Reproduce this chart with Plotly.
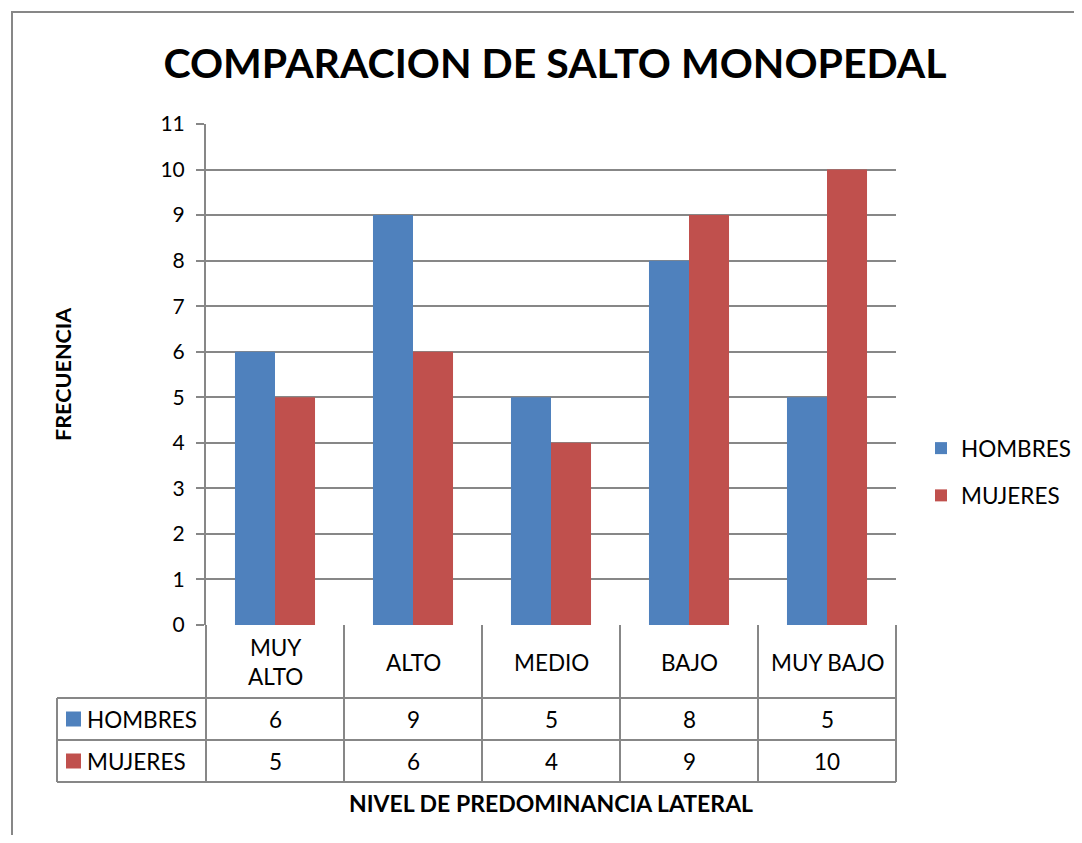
import plotly.graph_objects as go

categories = ["MUY ALTO", "ALTO", "MEDIO", "BAJO", "MUY BAJO"]
category_labels = ["MUY<br>ALTO", "ALTO", "MEDIO", "BAJO", "MUY BAJO"]
series_names = ["HOMBRES", "MUJERES"]
hombres = [6, 9, 5, 8, 5]
mujeres = [5, 6, 4, 9, 10]
y_ticks = list(range(0, 12))

colors = ["#4F81BD", "#C0504D"]
FONT = "Lato"
GRID = "#878787"

OFF = 8  # browser body margin
W, H = 1082 - 2 * OFF, 843 - 2 * OFF
L, R, T, B = 206, 896, 124, 625  # plot area box in window pixels
pw, ph = R - L, B - T


def px_x(p):
    return (p - L) / pw


def px_y(p):
    return (B - p) / ph


fig = go.Figure()
for name, vals, col in zip(series_names, [hombres, mujeres], colors):
    fig.add_trace(go.Bar(x=categories, y=vals, name=name, marker_color=col,
                         marker_line_width=0, legendgroup=name))

shapes = []
annotations = []
line = dict(color=GRID, width=2)

# table horizontal lines
for yy in [698, 740, 782]:
    shapes.append(dict(type="line", xref="paper", yref="paper", x0=px_x(57), x1=1,
                       y0=px_y(yy), y1=px_y(yy), line=line))
# table vertical lines
shapes.append(dict(type="line", xref="x domain", yref="paper", x0=0, x1=0,
                   y0=px_y(782), y1=0, line=line))
shapes.append(dict(type="line", xref="x domain", yref="paper", x0=1, x1=1,
                   y0=px_y(782), y1=0, line=line))
for i in range(len(categories) - 1):
    shapes.append(dict(type="line", xref="x", yref="paper", x0=i + 0.5, x1=i + 0.5,
                       y0=px_y(782), y1=0, line=line))
shapes.append(dict(type="line", xref="paper", yref="paper", x0=px_x(57), x1=px_x(57),
                   y0=px_y(782), y1=px_y(698), line=line))

# outer chart border
shapes.append(dict(type="rect", xref="paper", yref="paper", x0=px_x(12), x1=px_x(1100),
                   y0=px_y(870), y1=px_y(12), line=line,
                   fillcolor="rgba(0,0,0,0)", layer="below"))

TF = 22.5
# table text
for cat, lab in zip(categories, category_labels):
    annotations.append(dict(x=cat, xref="x", y=px_y(662), yref="paper", text=lab,
                            showarrow=False, font=dict(size=TF, color="black", family=FONT),
                            xanchor="center", yanchor="middle"))
row_centers = [719, 761]
for name, vals, col, yc in zip(series_names, [hombres, mujeres], colors, row_centers):
    for cat, v in zip(categories, vals):
        annotations.append(dict(x=cat, xref="x", y=px_y(yc), yref="paper", text=str(v),
                                showarrow=False, font=dict(size=TF, color="black", family=FONT),
                                xanchor="center", yanchor="middle"))
    shapes.append(dict(type="rect", xref="paper", yref="paper", x0=px_x(66), x1=px_x(81),
                       y0=px_y(yc + 7.5), y1=px_y(yc - 7.5), fillcolor=col, line=dict(width=0)))
    annotations.append(dict(x=px_x(85), xref="paper", y=px_y(yc), yref="paper", text=name,
                            showarrow=False, xanchor="left", yanchor="middle",
                            font=dict(size=TF, color="black", family=FONT)))

# axis titles
annotations.append(dict(x=px_x(63), y=px_y(374), xref="paper", yref="paper", text="<b>FRECUENCIA</b>",
                        textangle=-90, showarrow=False, xanchor="center", yanchor="middle",
                        font=dict(size=21.6, color="black", family=FONT)))
annotations.append(dict(x=px_x(551), y=px_y(803), xref="paper", yref="paper",
                        text="<b>NIVEL DE PREDOMINANCIA LATERAL</b>",
                        showarrow=False, xanchor="center", yanchor="middle",
                        font=dict(size=23, color="black", family=FONT)))

fig.update_layout(
    width=W, height=H,
    margin=dict(l=L - OFF, r=W - (R - OFF), t=T - OFF, b=H - (B - OFF), pad=0, autoexpand=False),
    paper_bgcolor="white", plot_bgcolor="white",
    font=dict(family=FONT, color="black", size=21),
    title=dict(text="<b>COMPARACION DE SALTO MONOPEDAL</b>", x=(555 - OFF) / W, y=1 - (64 - OFF) / H,
               xanchor="center", yanchor="middle", xref="container", yref="container",
               font=dict(size=41, color="black", family=FONT)),
    barmode="group", bargap=0.42, bargroupgap=0,
    showlegend=True,
    legend=dict(x=px_x(921), y=px_y(427), xanchor="left", yanchor="top",
                font=dict(size=TF, color="black", family=FONT), tracegroupgap=15,
                itemwidth=30, bgcolor="rgba(0,0,0,0)"),
    shapes=shapes, annotations=annotations,
)
fig.update_xaxes(showticklabels=False, showgrid=False, zeroline=False, showline=False,
                 range=[-0.5, len(categories) - 0.5], ticks="")
fig.update_yaxes(range=[0, 11], tickvals=y_ticks, showgrid=True, gridcolor=GRID, gridwidth=2,
                 zeroline=False, showline=True, linecolor=GRID, linewidth=2,
                 ticks="outside", ticklen=8, tickcolor=GRID, tickwidth=2, ticklabelstandoff=7,
                 tickfont=dict(size=21, color="black", family=FONT))

fig.write_html("out.html")
